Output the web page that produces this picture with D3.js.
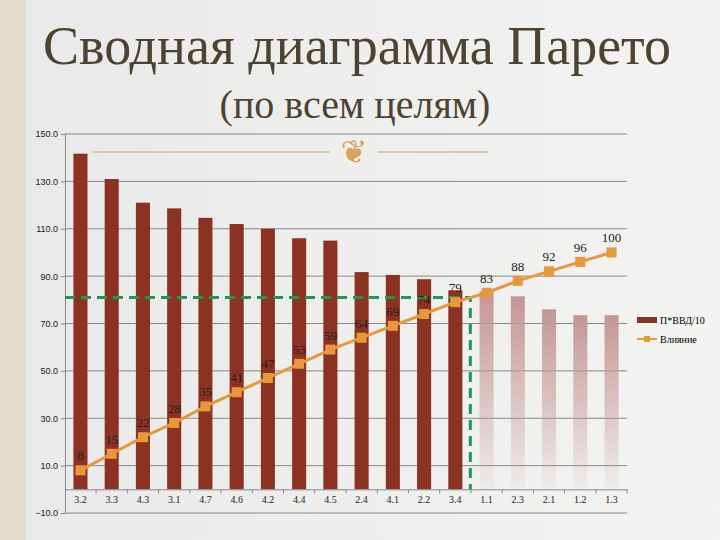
<!DOCTYPE html><html><head><meta charset="utf-8">
<script src="https://cdn.jsdelivr.net/npm/d3@7"></script>
<style>body{margin:0}</style></head><body>
<svg id="c" width="720" height="540"></svg>
<script>
const categories=["3.2","3.3","4.3","3.1","4.7","4.6","4.2","4.4","4.5","2.4","4.1","2.2","3.4","1.1","2.3","2.1","1.2","1.3"];
const barValues=[141.7,131,121,118.6,114.6,112,110,106,105,91.7,90.5,88.7,84,83.5,81.5,76,73.5,73.5];
const cumValues=[8,15,22,28,35,41,47,53,59,64,69,74,79,83,88,92,96,100];
const yTicks=[-10,10,30,50,70,90,110,130,150];
const cutoffIndex=12, cutoffLevel=81;
const svg=d3.select("#c");
const defs=svg.append("defs");
const bg=defs.append("linearGradient").attr("id","bg").attr("x1",0).attr("x2",1);
bg.append("stop").attr("offset","0").attr("stop-color","#e9e9e9");
bg.append("stop").attr("offset","1").attr("stop-color","#f3f3f1");
const fg=defs.append("linearGradient").attr("id","fade").attr("x1",0).attr("x2",0).attr("y1",0).attr("y2",1);
fg.append("stop").attr("offset","0").attr("stop-color","#c49696");
fg.append("stop").attr("offset","1").attr("stop-color","#c49696").attr("stop-opacity",0.05);
svg.append("rect").attr("width",720).attr("height",540).attr("fill","url(#bg)");
svg.append("rect").attr("width",26).attr("height",540).attr("fill","#e2ddcc");
const y=d3.scaleLinear().domain([-10,150]).range([513,134]);
const x=d3.scaleBand().domain(categories).range([65,627]).paddingInner(0.55).paddingOuter(0.27);
const g=svg.append("g");
g.selectAll(".gl").data(yTicks).join("line").attr("x1",65).attr("x2",627).attr("y1",d=>y(d)).attr("y2",d=>y(d)).attr("stroke","#888").attr("stroke-width",1);
svg.append("g").attr("transform","translate(65,0)").call(d3.axisLeft(y).tickValues(yTicks).tickFormat(d3.format(".1f")).tickSize(4))
 .call(a=>{a.select(".domain").attr("stroke","#888");a.selectAll("text").attr("font-family","Liberation Sans").attr("font-size",9).attr("fill","#222");a.selectAll("line").attr("stroke","#888");});
svg.append("g").attr("transform",`translate(0,${y(0)})`).call(d3.axisBottom(x).tickSize(4).tickSizeOuter(0))
 .call(a=>{a.select(".domain").attr("stroke","#888");a.selectAll("line").attr("stroke","#888").attr("transform",`translate(${x.step()/2},0)`);a.selectAll("text").attr("font-family","Liberation Serif").attr("font-size",10).attr("fill","#222");});
g.selectAll(".bar").data(barValues).join("rect").attr("x",(d,i)=>x(categories[i])).attr("width",x.bandwidth())
 .attr("y",d=>y(d)).attr("height",d=>y(0)-y(d)).attr("fill",(d,i)=>i<=cutoffIndex?"#8b3222":"url(#fade)");
const cx=(i)=>x(categories[i])+x.bandwidth()/2;
svg.append("path").attr("d","M"+x.range()[0]+","+y(cutoffLevel)+"H"+(cx(cutoffIndex)+15)+"V"+y(0))
 .attr("fill","none").attr("stroke","#1a9a55").attr("stroke-width",3).attr("stroke-dasharray","10,6");
svg.append("path").attr("d",d3.line().x((d,i)=>cx(i)).y(d=>y(d))(cumValues)).attr("fill","none").attr("stroke","#e8973a").attr("stroke-width",3);
svg.selectAll(".m").data(cumValues).join("rect").attr("x",(d,i)=>cx(i)-5).attr("y",d=>y(d)-5).attr("width",10).attr("height",10).attr("fill","#e8973a");
svg.selectAll(".lb").data(cumValues).join("text").attr("x",(d,i)=>cx(i)).attr("y",d=>y(d)-10).attr("text-anchor","middle")
 .attr("font-family","Liberation Serif").attr("font-size",13).attr("fill","#222").text(d=>d);
// legend
svg.append("rect").attr("x",637).attr("y",317).attr("width",20).attr("height",6).attr("fill","#8b3222");
svg.append("text").attr("x",660).attr("y",324).attr("font-family","Liberation Serif").attr("font-size",10).text("П*ВВД/10");
svg.append("line").attr("x1",637).attr("x2",657).attr("y1",339).attr("y2",339).attr("stroke","#e8973a").attr("stroke-width",2);
svg.append("rect").attr("x",644).attr("y",336).attr("width",6).attr("height",6).attr("fill","#e8973a");
svg.append("text").attr("x",660).attr("y",343).attr("font-family","Liberation Serif").attr("font-size",10).text("Влияние");
// title
svg.append("text").attr("x",357).attr("y",64).attr("text-anchor","middle").attr("font-family","Liberation Serif").attr("font-size",54).attr("fill","#4d4330").text("Сводная диаграмма Парето");
svg.append("text").attr("x",355).attr("y",118).attr("text-anchor","middle").attr("font-family","Liberation Serif").attr("font-size",40).attr("fill","#4d4330").text("(по всем целям)");
svg.append("line").attr("x1",92).attr("x2",330).attr("y1",152).attr("y2",152).attr("stroke","#d4a068");
svg.append("line").attr("x1",378).attr("x2",488).attr("y1",152).attr("y2",152).attr("stroke","#d4a068");
svg.append("text").attr("x",354).attr("y",163).attr("text-anchor","middle").attr("font-family","DejaVu Sans").attr("font-size",32).attr("fill","#d8a35a").text("❦");
</script></body></html>
